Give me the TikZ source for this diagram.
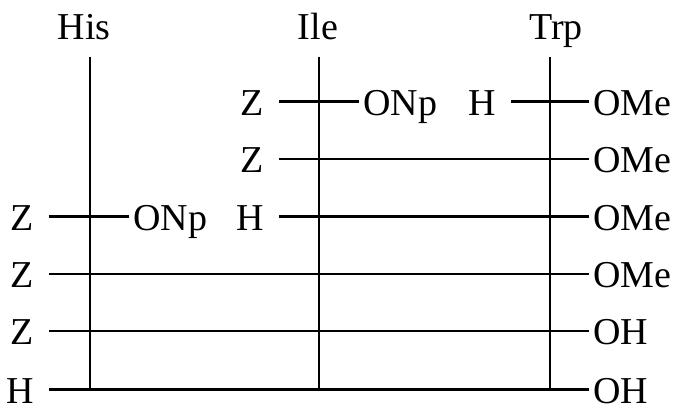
\documentclass[tikz,border=0pt]{standalone}
\usepackage{fontspec}
\setmainfont{Liberation Serif}
\usetikzlibrary{positioning}

\begin{document}
\begin{tikzpicture}[
  x=1pt, y=-1pt,
  strand/.style={line width=2.4pt, black},
  residue/.style={anchor=base, inner sep=0pt, font=\fontsize{38}{46}\selectfont},
  lgroup/.style={anchor=east, inner xsep=15pt, inner ysep=0pt, text height=27pt, text depth=0pt, font=\fontsize{38}{46}\selectfont},
  rgroup/.style={anchor=west, inner xsep=4pt, inner ysep=0pt, text height=27pt, text depth=0pt, font=\fontsize{38}{46}\selectfont}
]
  \useasboundingbox (0,2.5) rectangle (678,409.5);
  % residue names and backbones
  \node[residue] (his) at (84,42)  {His};
  \node[residue] (ile) at (318,42) {Ile};
  \node[residue] (trp) at (556,42) {Trp};
  \coordinate (hisT) at (90,59);  \coordinate (hisB) at (90,392);
  \coordinate (ileT) at (319,59); \coordinate (ileB) at (319,392);
  \coordinate (trpT) at (550,59); \coordinate (trpB) at (550,392);
  \draw[strand] (hisT) -- (hisB);
  \draw[strand] (ileT) -- (ileB);
  \draw[strand] (trpT) -- (trpB);
  % row 1
  \node[lgroup] (z1)   at (279,104) {Z};
  \node[rgroup] (onp1) at (359,104) {ONp};
  \node[lgroup] (h1)   at (511,104) {H};
  \node[rgroup] (ome1) at (589,104) {OMe};
  \draw[strand] (z1) -- (onp1);
  \draw[strand] (h1) -- (ome1);
  % row 2
  \node[lgroup] (z2)   at (279,161.5) {Z};
  \node[rgroup] (ome2) at (589,161.5) {OMe};
  \draw[strand] (z2) -- (ome2);
  % row 3
  \node[lgroup] (z3)   at (49,219)  {Z};
  \node[rgroup] (onp3) at (129,219) {ONp};
  \node[lgroup] (h3)   at (279,219) {H};
  \node[rgroup] (ome3) at (589,219) {OMe};
  \draw[strand] (z3) -- (onp3);
  \draw[strand] (h3) -- (ome3);
  % rows 4 to 6
  \node[lgroup] (z4)   at (49,276.5) {Z};
  \node[rgroup] (ome4) at (589,276.5) {OMe};
  \draw[strand] (z4) -- (ome4);
  \node[lgroup] (z5)   at (49,333.5) {Z};
  \node[rgroup] (oh5)  at (589,333.5) {OH};
  \draw[strand] (z5) -- (oh5);
  \node[lgroup] (h6)   at (49,392) {H};
  \node[rgroup] (oh6)  at (589,392) {OH};
  \draw[strand] (h6) -- (oh6);
\end{tikzpicture}
\end{document}
